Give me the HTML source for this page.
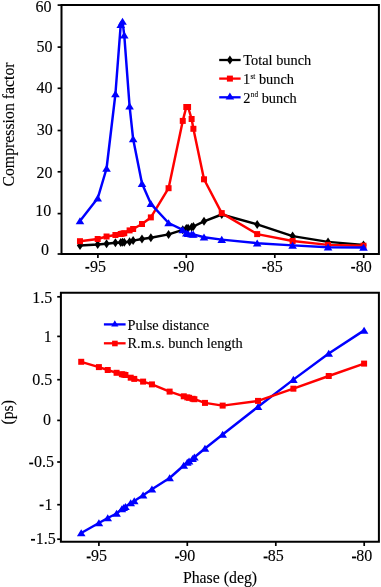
<!DOCTYPE html>
<html><head><meta charset="utf-8"><title>Compression factor and pulse distance vs phase</title>
<style>
html,body{margin:0;padding:0;background:#fff;}
body{width:381px;height:587px;overflow:hidden;}
svg{display:block;will-change:transform;}
text{font-family:"Liberation Serif",serif;fill:#000;stroke:#000;stroke-width:0.12px;}
.tk{font-size:16px;}
.ttl{font-size:15.8px;}
.lg{font-size:14.35px;}
.sup{font-size:7.2px;}
</style></head>
<body>
<svg width="381" height="587" viewBox="0 0 381 587">
<rect width="381" height="587" fill="#fff"/>
<polyline fill="none" stroke="#000" stroke-width="2.45" stroke-linejoin="round" points="79.98,245.5 97.7,244.5 106.56,243.8 115.42,242.8 120.74,242.5 122.51,242.3 124.28,242.2 129.6,241.8 133.14,240.6 142,239 150.86,237.7 168.58,234.4 182.76,229.8 186.3,228.4 188.07,228.2 191.62,227.2 193.39,226.5 204.02,221.3 221.74,214.5 257.18,224.4 292.62,236.1 328.06,241.9 363.5,244.9"/>
<path fill="#000" d="M79.98 241L83.08 245.5L79.98 250L76.88 245.5Z"/>
<path fill="#000" d="M97.7 240L100.8 244.5L97.7 249L94.6 244.5Z"/>
<path fill="#000" d="M106.56 239.3L109.66 243.8L106.56 248.3L103.46 243.8Z"/>
<path fill="#000" d="M115.42 238.3L118.52 242.8L115.42 247.3L112.32 242.8Z"/>
<path fill="#000" d="M120.74 238L123.84 242.5L120.74 247L117.64 242.5Z"/>
<path fill="#000" d="M122.51 237.8L125.61 242.3L122.51 246.8L119.41 242.3Z"/>
<path fill="#000" d="M124.28 237.7L127.38 242.2L124.28 246.7L121.18 242.2Z"/>
<path fill="#000" d="M129.6 237.3L132.7 241.8L129.6 246.3L126.5 241.8Z"/>
<path fill="#000" d="M133.14 236.1L136.24 240.6L133.14 245.1L130.04 240.6Z"/>
<path fill="#000" d="M142 234.5L145.1 239L142 243.5L138.9 239Z"/>
<path fill="#000" d="M150.86 233.2L153.96 237.7L150.86 242.2L147.76 237.7Z"/>
<path fill="#000" d="M168.58 229.9L171.68 234.4L168.58 238.9L165.48 234.4Z"/>
<path fill="#000" d="M182.76 225.3L185.86 229.8L182.76 234.3L179.66 229.8Z"/>
<path fill="#000" d="M186.3 223.9L189.4 228.4L186.3 232.9L183.2 228.4Z"/>
<path fill="#000" d="M188.07 223.7L191.17 228.2L188.07 232.7L184.97 228.2Z"/>
<path fill="#000" d="M191.62 222.7L194.72 227.2L191.62 231.7L188.52 227.2Z"/>
<path fill="#000" d="M193.39 222L196.49 226.5L193.39 231L190.29 226.5Z"/>
<path fill="#000" d="M204.02 216.8L207.12 221.3L204.02 225.8L200.92 221.3Z"/>
<path fill="#000" d="M221.74 210L224.84 214.5L221.74 219L218.64 214.5Z"/>
<path fill="#000" d="M257.18 219.9L260.28 224.4L257.18 228.9L254.08 224.4Z"/>
<path fill="#000" d="M292.62 231.6L295.72 236.1L292.62 240.6L289.52 236.1Z"/>
<path fill="#000" d="M328.06 237.4L331.16 241.9L328.06 246.4L324.96 241.9Z"/>
<path fill="#000" d="M363.5 240.4L366.6 244.9L363.5 249.4L360.4 244.9Z"/>
<polyline fill="none" stroke="#ff0000" stroke-width="2.45" stroke-linejoin="round" points="79.98,241.2 97.7,239 106.56,236.5 115.42,235 120.74,234 122.51,233.6 124.28,233.2 129.6,230.4 133.14,229 142,224 150.86,217.4 168.58,188.2 182.76,120.9 186.3,107 188.07,107 191.62,119 193.39,128.8 204.02,179.3 221.74,213.1 257.18,234.1 292.62,241 328.06,244.9 363.5,245.7"/>
<rect fill="#ff0000" x="76.98" y="238.2" width="6" height="6"/>
<rect fill="#ff0000" x="94.7" y="236" width="6" height="6"/>
<rect fill="#ff0000" x="103.56" y="233.5" width="6" height="6"/>
<rect fill="#ff0000" x="112.42" y="232" width="6" height="6"/>
<rect fill="#ff0000" x="117.74" y="231" width="6" height="6"/>
<rect fill="#ff0000" x="119.51" y="230.6" width="6" height="6"/>
<rect fill="#ff0000" x="121.28" y="230.2" width="6" height="6"/>
<rect fill="#ff0000" x="126.6" y="227.4" width="6" height="6"/>
<rect fill="#ff0000" x="130.14" y="226" width="6" height="6"/>
<rect fill="#ff0000" x="139" y="221" width="6" height="6"/>
<rect fill="#ff0000" x="147.86" y="214.4" width="6" height="6"/>
<rect fill="#ff0000" x="165.58" y="185.2" width="6" height="6"/>
<rect fill="#ff0000" x="179.76" y="117.9" width="6" height="6"/>
<rect fill="#ff0000" x="183.3" y="104" width="6" height="6"/>
<rect fill="#ff0000" x="185.07" y="104" width="6" height="6"/>
<rect fill="#ff0000" x="188.62" y="116" width="6" height="6"/>
<rect fill="#ff0000" x="190.39" y="125.8" width="6" height="6"/>
<rect fill="#ff0000" x="201.02" y="176.3" width="6" height="6"/>
<rect fill="#ff0000" x="218.74" y="210.1" width="6" height="6"/>
<rect fill="#ff0000" x="254.18" y="231.1" width="6" height="6"/>
<rect fill="#ff0000" x="289.62" y="238" width="6" height="6"/>
<rect fill="#ff0000" x="325.06" y="241.9" width="6" height="6"/>
<rect fill="#ff0000" x="360.5" y="242.7" width="6" height="6"/>
<polyline fill="none" stroke="#0000ff" stroke-width="2.45" stroke-linejoin="round" points="79.98,221 97.7,198.3 106.56,168.5 115.42,94 120.74,24.7 122.51,21.4 124.28,35.3 129.6,106.3 133.14,139 142,183.6 150.86,203.8 168.58,223 182.76,229.9 186.3,233.3 188.07,233.8 191.62,234.2 193.39,234.4 204.02,237.3 221.74,239.6 257.18,243.2 292.62,245.4 328.06,247.2 363.5,247.5"/>
<path fill="#0000ff" d="M79.98 217.25L84.28 224.3L75.68 224.3Z"/>
<path fill="#0000ff" d="M97.7 194.55L102 201.6L93.4 201.6Z"/>
<path fill="#0000ff" d="M106.56 164.75L110.86 171.8L102.26 171.8Z"/>
<path fill="#0000ff" d="M115.42 90.25L119.72 97.3L111.12 97.3Z"/>
<path fill="#0000ff" d="M120.74 20.95L125.04 28L116.44 28Z"/>
<path fill="#0000ff" d="M122.51 17.65L126.81 24.7L118.21 24.7Z"/>
<path fill="#0000ff" d="M124.28 31.55L128.58 38.6L119.98 38.6Z"/>
<path fill="#0000ff" d="M129.6 102.55L133.9 109.6L125.3 109.6Z"/>
<path fill="#0000ff" d="M133.14 135.25L137.44 142.3L128.84 142.3Z"/>
<path fill="#0000ff" d="M142 179.85L146.3 186.9L137.7 186.9Z"/>
<path fill="#0000ff" d="M150.86 200.05L155.16 207.1L146.56 207.1Z"/>
<path fill="#0000ff" d="M168.58 219.25L172.88 226.3L164.28 226.3Z"/>
<path fill="#0000ff" d="M182.76 226.15L187.06 233.2L178.46 233.2Z"/>
<path fill="#0000ff" d="M186.3 229.55L190.6 236.6L182 236.6Z"/>
<path fill="#0000ff" d="M188.07 230.05L192.37 237.1L183.77 237.1Z"/>
<path fill="#0000ff" d="M191.62 230.45L195.92 237.5L187.32 237.5Z"/>
<path fill="#0000ff" d="M193.39 230.65L197.69 237.7L189.09 237.7Z"/>
<path fill="#0000ff" d="M204.02 233.55L208.32 240.6L199.72 240.6Z"/>
<path fill="#0000ff" d="M221.74 235.85L226.04 242.9L217.44 242.9Z"/>
<path fill="#0000ff" d="M257.18 239.45L261.48 246.5L252.88 246.5Z"/>
<path fill="#0000ff" d="M292.62 241.65L296.92 248.7L288.32 248.7Z"/>
<path fill="#0000ff" d="M328.06 243.45L332.36 250.5L323.76 250.5Z"/>
<path fill="#0000ff" d="M363.5 243.75L367.8 250.8L359.2 250.8Z"/>
<path fill="none" stroke="#000" stroke-width="2.0" d="M61.5 5.1H378.9V254H61.5Z"/>
<path stroke="#000" stroke-width="1.7" d="M57.6 5.1H61.5"/>
<path stroke="#000" stroke-width="1.7" d="M57.6 47.1H61.5"/>
<path stroke="#000" stroke-width="1.7" d="M57.6 88.3H61.5"/>
<path stroke="#000" stroke-width="1.7" d="M57.6 130.5H61.5"/>
<path stroke="#000" stroke-width="1.7" d="M57.6 171.8H61.5"/>
<path stroke="#000" stroke-width="1.7" d="M57.6 213.6H61.5"/>
<path stroke="#000" stroke-width="1.7" d="M57.6 254H61.5"/>
<path stroke="#000" stroke-width="1.7" d="M97.9 254V258"/>
<path stroke="#000" stroke-width="1.7" d="M186.3 254V258"/>
<path stroke="#000" stroke-width="1.7" d="M274.8 254V258"/>
<path stroke="#000" stroke-width="1.7" d="M363.7 254V258"/>
<text class="tk" x="51.4" y="11.6" text-anchor="end">60</text>
<text class="tk" x="52.4" y="52.2" text-anchor="end">50</text>
<text class="tk" x="52.4" y="93.2" text-anchor="end">40</text>
<text class="tk" x="52.8" y="135.4" text-anchor="end">30</text>
<text class="tk" x="52.5" y="177.7" text-anchor="end">20</text>
<text class="tk" x="51.2" y="216.4" text-anchor="end">10</text>
<text class="tk" x="49" y="255" text-anchor="end">0</text>
<text class="tk" x="97.9" y="271.6" text-anchor="middle">95</text>
<rect x="85.4" y="266.9" width="3.9" height="1.75"/>
<text class="tk" x="186.3" y="271.6" text-anchor="middle">90</text>
<rect x="173.8" y="266.9" width="3.9" height="1.75"/>
<text class="tk" x="274.8" y="271.6" text-anchor="middle">85</text>
<rect x="262.3" y="266.9" width="3.9" height="1.75"/>
<text class="tk" x="363.7" y="271.6" text-anchor="middle">80</text>
<rect x="351.2" y="266.9" width="3.9" height="1.75"/>
<text class="ttl" transform="translate(13.5 124.5) rotate(-90)" text-anchor="middle">Compression factor</text>
<path stroke="#000" stroke-width="2.3" d="M219.2 60H240.6"/>
<path fill="#000" d="M229.9 55.5L233 60L229.9 64.5L226.8 60Z"/>
<path stroke="#ff0000" stroke-width="2.3" d="M219.2 78.6H240.6"/>
<rect fill="#ff0000" x="226.9" y="75.6" width="6" height="6"/>
<path stroke="#0000ff" stroke-width="2.3" d="M219.2 97.3H240.6"/>
<path fill="#0000ff" d="M229.9 92.55L234.2 99.6L225.6 99.6Z"/>
<text class="lg" x="243.3" y="64.7">Total bunch</text>
<text class="lg" x="243.0" y="84.2">1<tspan class="sup" dx="0.4" dy="-5.6">st</tspan><tspan dy="5.6"> bunch</tspan></text>
<text class="lg" x="243.3" y="102.6">2<tspan class="sup" dx="0.4" dy="-5.6">nd</tspan><tspan dy="5.6"> bunch</tspan></text>
<polyline fill="none" stroke="#0000ff" stroke-width="2.45" stroke-linejoin="round" points="81.22,533 98.9,523 107.74,518 116.58,513.5 121.88,509 123.65,507.8 125.42,506.8 130.72,503 134.26,501 143.1,495.2 151.94,489.2 169.62,478 183.76,465.5 187.3,462.5 189.07,461.3 192.6,458.8 194.37,457.3 204.98,448.5 222.66,434.5 258.02,406.8 293.38,379.6 328.74,353.5 364.1,330.4"/>
<path fill="#0000ff" d="M81.22 529.25L85.52 536.3L76.92 536.3Z"/>
<path fill="#0000ff" d="M98.9 519.25L103.2 526.3L94.6 526.3Z"/>
<path fill="#0000ff" d="M107.74 514.25L112.04 521.3L103.44 521.3Z"/>
<path fill="#0000ff" d="M116.58 509.75L120.88 516.8L112.28 516.8Z"/>
<path fill="#0000ff" d="M121.88 505.25L126.18 512.3L117.58 512.3Z"/>
<path fill="#0000ff" d="M123.65 504.05L127.95 511.1L119.35 511.1Z"/>
<path fill="#0000ff" d="M125.42 503.05L129.72 510.1L121.12 510.1Z"/>
<path fill="#0000ff" d="M130.72 499.25L135.02 506.3L126.42 506.3Z"/>
<path fill="#0000ff" d="M134.26 497.25L138.56 504.3L129.96 504.3Z"/>
<path fill="#0000ff" d="M143.1 491.45L147.4 498.5L138.8 498.5Z"/>
<path fill="#0000ff" d="M151.94 485.45L156.24 492.5L147.64 492.5Z"/>
<path fill="#0000ff" d="M169.62 474.25L173.92 481.3L165.32 481.3Z"/>
<path fill="#0000ff" d="M183.76 461.75L188.06 468.8L179.46 468.8Z"/>
<path fill="#0000ff" d="M187.3 458.75L191.6 465.8L183 465.8Z"/>
<path fill="#0000ff" d="M189.07 457.55L193.37 464.6L184.77 464.6Z"/>
<path fill="#0000ff" d="M192.6 455.05L196.9 462.1L188.3 462.1Z"/>
<path fill="#0000ff" d="M194.37 453.55L198.67 460.6L190.07 460.6Z"/>
<path fill="#0000ff" d="M204.98 444.75L209.28 451.8L200.68 451.8Z"/>
<path fill="#0000ff" d="M222.66 430.75L226.96 437.8L218.36 437.8Z"/>
<path fill="#0000ff" d="M258.02 403.05L262.32 410.1L253.72 410.1Z"/>
<path fill="#0000ff" d="M293.38 375.85L297.68 382.9L289.08 382.9Z"/>
<path fill="#0000ff" d="M328.74 349.75L333.04 356.8L324.44 356.8Z"/>
<path fill="#0000ff" d="M364.1 326.65L368.4 333.7L359.8 333.7Z"/>
<polyline fill="none" stroke="#ff0000" stroke-width="2.45" stroke-linejoin="round" points="81.22,361.8 98.9,367.1 107.74,370 116.58,372.8 121.88,374.2 123.65,374.6 125.42,375 130.72,377.7 134.26,378.9 143.1,381.6 151.94,384.4 169.62,391.6 183.76,396.3 187.3,397.4 189.07,397.8 192.6,398.8 194.37,399.2 204.98,402.9 222.66,405.6 258.02,400.9 293.38,388.7 328.74,376 364.1,363.6"/>
<rect fill="#ff0000" x="78.22" y="358.8" width="6" height="6"/>
<rect fill="#ff0000" x="95.9" y="364.1" width="6" height="6"/>
<rect fill="#ff0000" x="104.74" y="367" width="6" height="6"/>
<rect fill="#ff0000" x="113.58" y="369.8" width="6" height="6"/>
<rect fill="#ff0000" x="118.88" y="371.2" width="6" height="6"/>
<rect fill="#ff0000" x="120.65" y="371.6" width="6" height="6"/>
<rect fill="#ff0000" x="122.42" y="372" width="6" height="6"/>
<rect fill="#ff0000" x="127.72" y="374.7" width="6" height="6"/>
<rect fill="#ff0000" x="131.26" y="375.9" width="6" height="6"/>
<rect fill="#ff0000" x="140.1" y="378.6" width="6" height="6"/>
<rect fill="#ff0000" x="148.94" y="381.4" width="6" height="6"/>
<rect fill="#ff0000" x="166.62" y="388.6" width="6" height="6"/>
<rect fill="#ff0000" x="180.76" y="393.3" width="6" height="6"/>
<rect fill="#ff0000" x="184.3" y="394.4" width="6" height="6"/>
<rect fill="#ff0000" x="186.07" y="394.8" width="6" height="6"/>
<rect fill="#ff0000" x="189.6" y="395.8" width="6" height="6"/>
<rect fill="#ff0000" x="191.37" y="396.2" width="6" height="6"/>
<rect fill="#ff0000" x="201.98" y="399.9" width="6" height="6"/>
<rect fill="#ff0000" x="219.66" y="402.6" width="6" height="6"/>
<rect fill="#ff0000" x="255.02" y="397.9" width="6" height="6"/>
<rect fill="#ff0000" x="290.38" y="385.7" width="6" height="6"/>
<rect fill="#ff0000" x="325.74" y="373" width="6" height="6"/>
<rect fill="#ff0000" x="361.1" y="360.6" width="6" height="6"/>
<path fill="none" stroke="#000" stroke-width="2.0" d="M60.9 292.7H378.9V541.8H60.9Z"/>
<path stroke="#000" stroke-width="1.7" d="M57.2 296.8H60.9"/>
<path stroke="#000" stroke-width="1.7" d="M57.2 336.4H60.9"/>
<path stroke="#000" stroke-width="1.7" d="M57.2 379.7H60.9"/>
<path stroke="#000" stroke-width="1.7" d="M57.2 420.4H60.9"/>
<path stroke="#000" stroke-width="1.7" d="M57.2 462H60.9"/>
<path stroke="#000" stroke-width="1.7" d="M57.2 504.7H60.9"/>
<path stroke="#000" stroke-width="1.7" d="M57.2 539.2H60.9"/>
<path stroke="#000" stroke-width="1.7" d="M98.9 541.8V546"/>
<path stroke="#000" stroke-width="1.7" d="M187.3 541.8V546"/>
<path stroke="#000" stroke-width="1.7" d="M275.8 541.8V546"/>
<path stroke="#000" stroke-width="1.7" d="M364.2 541.8V546"/>
<text class="tk" x="52.2" y="302.7" text-anchor="end">1.5</text>
<text class="tk" x="51.8" y="341.8" text-anchor="end">1</text>
<text class="tk" x="52.2" y="384.8" text-anchor="end">0.5</text>
<text class="tk" x="51" y="425.4" text-anchor="end">0</text>
<text class="tk" x="53.9" y="466.8" text-anchor="end">0.5</text>
<rect x="29.2" y="462.6" width="4.0" height="1.75"/>
<text class="tk" x="52.4" y="509.9" text-anchor="end">1</text>
<rect x="39.6" y="504.6" width="4.0" height="1.75"/>
<text class="tk" x="55.8" y="543.5" text-anchor="end">1.5</text>
<rect x="31" y="538.9" width="4.0" height="1.75"/>
<text class="tk" x="98.9" y="561.2" text-anchor="middle">95</text>
<rect x="86.7" y="556.5" width="4.0" height="1.9"/>
<text class="tk" x="187.3" y="561.2" text-anchor="middle">90</text>
<rect x="175.1" y="556.5" width="4.0" height="1.9"/>
<text class="tk" x="275.8" y="561.2" text-anchor="middle">85</text>
<rect x="263.6" y="556.5" width="4.0" height="1.9"/>
<text class="tk" x="364.2" y="561.2" text-anchor="middle">80</text>
<rect x="352" y="556.5" width="4.0" height="1.9"/>
<text class="ttl" transform="translate(13.4 412.3) rotate(-90)" text-anchor="middle">(ps)</text>
<text class="ttl" x="220" y="582.8" text-anchor="middle">Phase (deg)</text>
<path stroke="#0000ff" stroke-width="2.3" d="M103.9 324.4H125.6"/>
<path fill="#0000ff" d="M114.8 320.2L118.4 326.5L111.2 326.5Z"/>
<path stroke="#ff0000" stroke-width="2.3" d="M103.9 343.3H125.6"/>
<rect fill="#ff0000" x="112.1" y="340.7" width="5.6" height="5.6"/>
<text class="lg" x="127.5" y="329.7">Pulse distance</text>
<text class="lg" x="127.5" y="348.1">R.m.s. bunch length</text>
</svg>
</body></html>
